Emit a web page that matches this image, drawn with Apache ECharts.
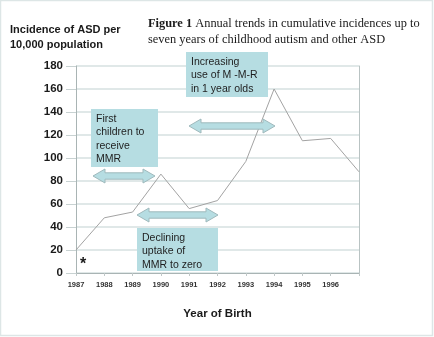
<!DOCTYPE html>
<html><head><meta charset="utf-8">
<script src="https://cdn.jsdelivr.net/npm/echarts@6/dist/echarts.min.js"></script>
<style>html,body{margin:0;padding:0;background:#fff}#c{width:434px;height:337px}</style>
</head><body><div id="c"></div>
<script>
const years = [1987, 1988, 1989, 1990, 1991, 1992, 1993, 1994, 1995, 1996, 1997];
const incidence = [20, 48, 53, 86, 56, 63, 97, 160, 115, 117, 88];
const yTicks = [0, 20, 40, 60, 80, 100, 120, 140, 160, 180];
const xTickLabels = ['1987','1988','1989','1990','1991','1992','1993','1994','1995','1996'];

const chart = echarts.init(document.getElementById('c'), null, {renderer:'canvas'});
const F = '"Liberation Sans", Arial, sans-serif';
const S = '"Liberation Serif", "Times New Roman", serif';
const boxFill = '#b6dde2';
const arrowStroke = '#9fb9bc';

function arrow(x1, x2, cy) {
  const hl = 12, hh = 7, sh = 3.2;
  return {
    type: 'polygon', z: 20,
    shape: { points: [
      [x1, cy], [x1 + hl, cy - hh], [x1 + hl, cy - sh], [x2 - hl, cy - sh], [x2 - hl, cy - hh],
      [x2, cy], [x2 - hl, cy + hh], [x2 - hl, cy + sh], [x1 + hl, cy + sh], [x1 + hl, cy + hh]
    ]},
    style: { fill: boxFill, stroke: arrowStroke, lineWidth: 1 }
  };
}
function box(x, y, w, h, text) {
  return [
    { type: 'rect', z: 20, shape: { x: x, y: y, width: w, height: h }, style: { fill: boxFill } },
    { type: 'text', z: 21, left: x + 5, top: y + 3,
      style: { text: text, font: '10.5px ' + F, fill: '#1e1e1e', lineHeight: 13.5 } }
  ];
}

const option = {
  animation: false,
  backgroundColor: '#fff',
  grid: { left: 76, right: 75, top: 66, bottom: 64 },
  xAxis: {
    type: 'value', min: 1987, max: 1997, interval: 1,
    axisLine: { lineStyle: { color: '#a9b4b4' } },
    axisTick: { show: true, length: 3, lineStyle: { color: '#c0c8c8' } },
    splitLine: { show: false },
    axisLabel: {
      margin: 8, fontFamily: F, fontSize: 7.5, fontWeight: 'bold', color: '#333',
      formatter: v => { const i = years.indexOf(v); return (i >= 0 && i < xTickLabels.length) ? xTickLabels[i] : ''; }
    },
    name: 'Year of Birth', nameLocation: 'middle', nameGap: 35,
    nameTextStyle: { fontFamily: F, fontSize: 11.5, fontWeight: 'bold', color: '#1a1a1a' }
  },
  yAxis: [{
    type: 'value', min: 0, max: 180, interval: 20,
    axisLine: { show: true, lineStyle: { color: '#a9b4b4' } },
    axisTick: { show: true, length: 10, lineStyle: { color: '#c8d2d2' } },
    splitLine: { show: true, lineStyle: { color: '#d6e1e1', width: 1.5 } },
    axisLabel: { margin: 13, fontFamily: F, fontSize: 11.5, fontWeight: 'bold', color: '#1a1a1a',
      formatter: v => yTicks.includes(v) ? String(v) : '' }
  }, {
    type: 'value', min: 0, max: 180, interval: 20, position: 'right',
    axisLine: { show: true, lineStyle: { color: '#b9c3c3' } },
    axisTick: { show: false }, axisLabel: { show: false }, splitLine: { show: false }
  }],
  series: [{
    type: 'line', data: years.map((y, i) => [y, incidence[i]]),
    symbol: 'none', lineStyle: { color: '#a3a3a3', width: 1 }, z: 10
  }],
  graphic: [
    { type: 'rect', z: 0, silent: true, shape: { x: 0.5, y: 0.5, width: 432, height: 335 },
      style: { fill: 'none', stroke: '#dde6e6', lineWidth: 1.5 } },
    { type: 'text', left: 10, top: 22,
      style: { text: 'Incidence of ASD per\n10,000 population', font: 'bold 11px ' + F, fill: '#1a1a1a', lineHeight: 15 } },
    { type: 'text', left: 148, top: 16,
      style: { rich: {
        b: { font: 'bold 12.4px ' + S, fill: '#1a1a1a' },
        n: { font: '12.4px ' + S, fill: '#1a1a1a' }
      }, text: '{b|Figure 1}{n| Annual trends in cumulative incidences up to}\n{n|seven years of childhood autism and other ASD}', lineHeight: 16 } },
    ...box(91, 109, 67, 58, 'First\nchildren to\nreceive\nMMR'),
    ...box(186, 52, 82, 45, 'Increasing\nuse of M -M-R\nin 1 year olds'),
    ...box(137, 228, 81, 43, 'Declining\nuptake of\nMMR to zero'),
    arrow(93, 155, 176),
    arrow(189, 275, 126),
    arrow(137, 218, 215),
    { type: 'text', z: 21, left: 80, top: 257, style: { text: '*', font: 'bold 16px ' + F, fill: '#1a1a1a' } }
  ]
};
chart.setOption(option);
</script>
</body></html>
